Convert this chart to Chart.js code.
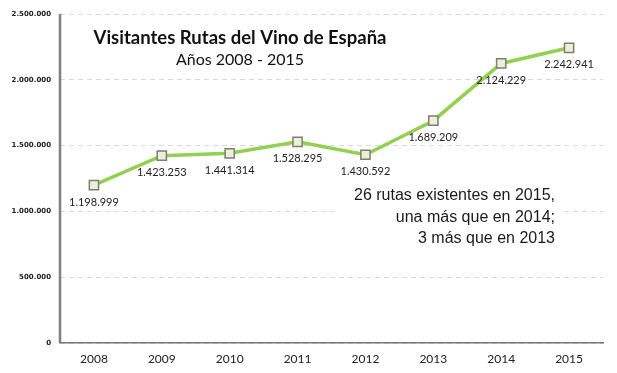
<!DOCTYPE html>
<html>
<head>
<meta charset="utf-8">
<script src="https://cdn.jsdelivr.net/npm/chart.js@4/dist/chart.umd.min.js"></script>
<style>
  html, body { margin: 0; padding: 0; background: #fff; }
  #wrap { width: 617px; height: 373px; position: relative; }
</style>
</head>
<body>
<div id="wrap"><canvas id="visitChart"></canvas></div>
<script>
(function () {
  // Years and visitors
  const years = ["2008", "2009", "2010", "2011", "2012", "2013", "2014", "2015"];
  const visitors = [1198999, 1423253, 1441314, 1528295, 1430592, 1689209, 2124229, 2242941];

  const chartTitle = "Visitantes Rutas del Vino de España";
  const chartSubtitle = "Años 2008 - 2015";
  const noteLines = ["26 rutas existentes en 2015,", "una más que en 2014;", "3 más que en 2013"];

  // Spanish style thousands separator: 1.198.999
  function fmt(n) {
    return String(Math.round(n)).replace(/\B(?=(\d{3})+(?!\d))/g, ".");
  }

  // Solid vertical axis line (the grid keeps its dashes)
  const solidAxis = {
    id: "solidAxis",
    beforeDatasetsDraw(chart) {
      const ctx = chart.ctx;
      const y = chart.scales.y;
      ctx.save();
      ctx.strokeStyle = "#808080";
      ctx.lineWidth = 2.5;
      ctx.setLineDash([]);
      ctx.beginPath();
      ctx.moveTo(y.right, y.top);
      ctx.lineTo(y.right, y.bottom);
      ctx.stroke();
      ctx.restore();
    },
  };

  // Value labels under each marker, title and the side note
  const decorations = {
    id: "decorations",
    afterDatasetsDraw(chart) {
      const ctx = chart.ctx;
      const area = chart.chartArea;
      const meta = chart.getDatasetMeta(0);

      ctx.save();
      ctx.fillStyle = "#222";
      ctx.font = "11px Lato, 'Open Sans', sans-serif";
      ctx.textAlign = "center";
      ctx.textBaseline = "middle";
      meta.data.forEach((pt, i) => {
        ctx.fillText(fmt(visitors[i]), pt.x, pt.y + 17);
      });

      // title block
      ctx.fillStyle = "#111";
      ctx.font = "bold 18.5px Lato, 'Open Sans', sans-serif";
      ctx.fillText(chartTitle, area.left + 180, area.top + 24);
      ctx.font = "16px Lato, 'Open Sans', sans-serif";
      ctx.fillText(chartSubtitle, area.left + 180, area.top + 46);

      // side note with a white box behind it
      ctx.font = "16px 'Liberation Sans', Arial, sans-serif";
      ctx.textAlign = "right";
      const rightX = area.left + 495;
      const topY = area.top + 182;
      ctx.fillStyle = "#fff";
      ctx.fillRect(area.left + 278, topY - 11, 227, 66);
      ctx.fillStyle = "#1a1a1a";
      noteLines.forEach((line, i) => {
        ctx.fillText(line, rightX, topY + i * 21.5);
      });
      ctx.restore();
    },
  };

  new Chart(document.getElementById("visitChart"), {
    type: "line",
    data: {
      labels: years,
      datasets: [
        {
          data: visitors,
          borderColor: "#92d050",
          borderWidth: 3.5,
          tension: 0,
          pointStyle: "rect",
          pointRadius: 6.5,
          pointBackgroundColor: "#eaf0dc",
          pointBorderColor: "#7f7f6c",
          pointBorderWidth: 1.5,
        },
      ],
    },
    options: {
      responsive: true,
      maintainAspectRatio: false,
      animation: false,
      layout: { padding: { top: 14, right: 14, left: 0, bottom: 0 } },
      plugins: {
        legend: { display: false },
        tooltip: { enabled: false },
      },
      scales: {
        x: {
          offset: true,
          grid: { display: false, drawTicks: false },
          border: { color: "#777", width: 1.5 },
          ticks: {
            color: "#222",
            font: { family: "Lato, 'Open Sans', sans-serif", size: 12 },
            padding: 9,
          },
          afterFit(scale) { scale.height = 30; },
        },
        y: {
          min: 0,
          max: 2500000,
          grid: {
            color: "#d9d9d9",
            drawTicks: false,
          },
          border: { display: false, dash: [5, 4] },
          ticks: {
            stepSize: 500000,
            color: "#222",
            font: { family: "'DejaVu Sans', sans-serif", size: 7, weight: "bold" },
            padding: 9,
            callback: (v) => fmt(v),
          },
          afterFit(scale) { scale.width = 60; },
        },
      },
    },
    plugins: [solidAxis, decorations],
  });
})();
</script>
</body>
</html>
